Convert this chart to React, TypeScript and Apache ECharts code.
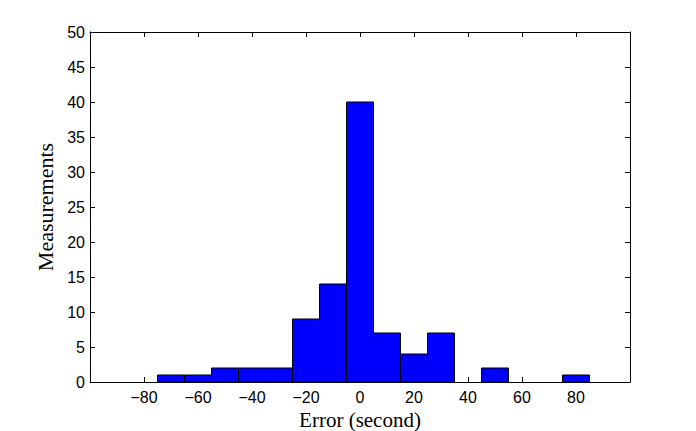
import React, { useEffect, useRef } from "react";
import * as echarts from "echarts";

const binCenters = [-70, -60, -50, -40, -30, -20, -10, 0, 10, 20, 30, 40, 50, 60, 70, 80];
const counts = [1, 1, 2, 2, 2, 9, 14, 40, 7, 4, 7, 0, 2, 0, 0, 1];
const binWidth = 10;
const xTicks = [-80, -60, -40, -20, 0, 20, 40, 60, 80];

export default function App() {
  const ref = useRef<HTMLDivElement>(null);
  useEffect(() => {
    if (!ref.current) return;
    const chart = echarts.init(ref.current, null, { renderer: "svg" });
    const tickFont = { fontFamily: "Liberation Sans", fontSize: 16, color: "#000" };
    const axisLine = { show: true, onZero: false, lineStyle: { color: "#000", width: 1 } };
    const axisTick = { show: true, inside: true, length: 5, lineStyle: { color: "#000", width: 1 } };
    const data = binCenters.map((c, i) => [c, counts[i]]).filter((d) => d[1] > 0);
    chart.setOption({
      animation: false,
      grid: { left: 90, right: 66, top: 32, bottom: 49, containLabel: false, outerBoundsMode: "none" },
      xAxis: [
        {
          type: "value",
          min: -100,
          max: 100,
          interval: 20,
          position: "bottom",
          axisLine,
          axisTick,
          splitLine: { show: false },
          axisLabel: {
            ...tickFont,
            margin: 7,
            showMinLabel: false,
            showMaxLabel: false,
            formatter: (v: number) => (xTicks.includes(v) ? String(v).replace("-", "\u2212") : ""),
          },
          name: "Error (second)",
          nameLocation: "middle",
          nameGap: 23,
          nameTextStyle: { fontFamily: "Liberation Serif", fontSize: 21, color: "#000" },
        },
        {
          type: "value",
          min: -100,
          max: 100,
          interval: 20,
          position: "top",
          axisLine,
          axisTick,
          splitLine: { show: false },
          axisLabel: { show: false },
        },
      ],
      yAxis: [
        {
          type: "value",
          min: 0,
          max: 50,
          interval: 5,
          position: "left",
          axisLine,
          axisTick,
          splitLine: { show: false },
          axisLabel: { ...tickFont, margin: 5 },
          name: "Measurements",
          nameLocation: "middle",
          nameGap: 25,
          nameTextStyle: { fontFamily: "Liberation Serif", fontSize: 22, color: "#000" },
        },
        {
          type: "value",
          min: 0,
          max: 50,
          interval: 5,
          position: "right",
          axisLine,
          axisTick,
          splitLine: { show: false },
          axisLabel: { show: false },
        },
      ],
      series: [
        {
          type: "custom",
          xAxisIndex: 0,
          yAxisIndex: 0,
          data,
          renderItem: (params: any, api: any) => {
            const x = api.value(0);
            const y = api.value(1);
            const p0 = api.coord([x - binWidth / 2, y]);
            const p1 = api.coord([x + binWidth / 2, 0]);
            return {
              type: "rect",
              shape: { x: p0[0], y: p0[1], width: p1[0] - p0[0], height: p1[1] - p0[1] },
              style: { fill: "#0000ff", stroke: "#000", lineWidth: 1 },
            };
          },
        },
      ],
    });
    return () => chart.dispose();
  }, []);
  return <div ref={ref} style={{ width: 696, height: 431, position: "absolute", left: 0, top: 0, background: "#fff" }} />;
}
